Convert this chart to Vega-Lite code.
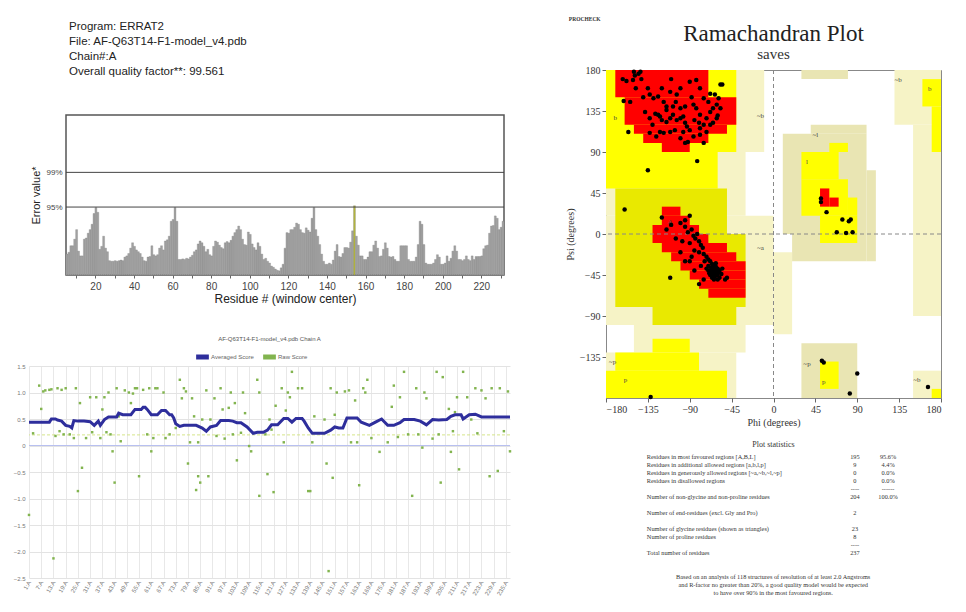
{
"$schema":"https://vega.github.io/schema/vega-lite/v6.json",
"padding":{"left":13,"top":17,"right":0,"bottom":0},
"background":"white",
"datasets":{
"errat":[{"r":5,"e":3.5},{"r":6,"e":3.8},{"r":7,"e":4.9},{"r":8,"e":4.9},{"r":9,"e":6.0},{"r":10,"e":7.6},{"r":11,"e":4.0},{"r":12,"e":3.2},{"r":13,"e":3.2},{"r":14,"e":6.0},{"r":15,"e":6.2},{"r":16,"e":7.0},{"r":17,"e":7.6},{"r":18,"e":8.5},{"r":19,"e":10.3},{"r":20,"e":11.3},{"r":21,"e":10.5},{"r":22,"e":4.3},{"r":23,"e":4.8},{"r":24,"e":6.5},{"r":25,"e":4.5},{"r":26,"e":3.9},{"r":27,"e":2.4},{"r":28,"e":2.3},{"r":29,"e":2.3},{"r":30,"e":2.4},{"r":31,"e":2.3},{"r":32,"e":2.4},{"r":33,"e":2.5},{"r":34,"e":2.4},{"r":35,"e":3.0},{"r":36,"e":3.2},{"r":37,"e":3.6},{"r":38,"e":4.5},{"r":39,"e":5.4},{"r":40,"e":4.8},{"r":41,"e":4.2},{"r":42,"e":3.9},{"r":43,"e":3.6},{"r":44,"e":3.0},{"r":45,"e":2.4},{"r":46,"e":2.3},{"r":47,"e":3.0},{"r":48,"e":3.1},{"r":49,"e":4.9},{"r":50,"e":3.4},{"r":51,"e":3.2},{"r":52,"e":3.4},{"r":53,"e":4.5},{"r":54,"e":4.9},{"r":55,"e":4.2},{"r":56,"e":5.7},{"r":57,"e":5.9},{"r":58,"e":6.5},{"r":59,"e":9.0},{"r":60,"e":9.3},{"r":61,"e":11.3},{"r":62,"e":9.0},{"r":63,"e":2.6},{"r":64,"e":2.6},{"r":65,"e":2.7},{"r":66,"e":2.6},{"r":67,"e":2.8},{"r":68,"e":2.7},{"r":69,"e":3.0},{"r":70,"e":3.3},{"r":71,"e":3.9},{"r":72,"e":4.2},{"r":73,"e":5.2},{"r":74,"e":5.7},{"r":75,"e":5.4},{"r":76,"e":4.8},{"r":77,"e":3.9},{"r":78,"e":4.3},{"r":79,"e":3.4},{"r":80,"e":3.2},{"r":81,"e":4.8},{"r":82,"e":5.7},{"r":83,"e":5.5},{"r":84,"e":5.0},{"r":85,"e":4.6},{"r":86,"e":4.4},{"r":87,"e":5.4},{"r":88,"e":5.6},{"r":89,"e":5.4},{"r":90,"e":5.8},{"r":91,"e":6.5},{"r":92,"e":7.1},{"r":93,"e":7.6},{"r":94,"e":8.2},{"r":95,"e":7.6},{"r":96,"e":6.0},{"r":97,"e":5.1},{"r":98,"e":5.0},{"r":99,"e":7.2},{"r":100,"e":6.8},{"r":101,"e":5.2},{"r":102,"e":4.6},{"r":103,"e":4.2},{"r":104,"e":5.4},{"r":105,"e":4.8},{"r":106,"e":3.5},{"r":107,"e":2.6},{"r":108,"e":2.8},{"r":109,"e":2.3},{"r":110,"e":2.0},{"r":111,"e":1.5},{"r":112,"e":1.3},{"r":113,"e":1.0},{"r":114,"e":0.8},{"r":115,"e":0.7},{"r":116,"e":1.2},{"r":117,"e":1.8},{"r":118,"e":4.5},{"r":119,"e":7.1},{"r":120,"e":7.0},{"r":121,"e":7.6},{"r":122,"e":7.6},{"r":123,"e":8.0},{"r":124,"e":8.7},{"r":125,"e":8.5},{"r":126,"e":7.6},{"r":127,"e":7.1},{"r":128,"e":7.0},{"r":129,"e":7.9},{"r":130,"e":7.5},{"r":131,"e":7.2},{"r":132,"e":9.5},{"r":133,"e":11.3},{"r":134,"e":7.6},{"r":135,"e":6.5},{"r":136,"e":5.1},{"r":137,"e":3.5},{"r":138,"e":2.3},{"r":139,"e":1.8},{"r":140,"e":1.8},{"r":141,"e":2.0},{"r":142,"e":1.8},{"r":143,"e":2.5},{"r":144,"e":4.0},{"r":145,"e":5.1},{"r":146,"e":3.1},{"r":147,"e":3.0},{"r":148,"e":3.6},{"r":149,"e":4.6},{"r":150,"e":4.6},{"r":151,"e":4.5},{"r":152,"e":5.5},{"r":153,"e":7.4},{"r":154,"e":11.6},{"r":155,"e":6.5},{"r":156,"e":5.0},{"r":157,"e":3.2},{"r":158,"e":3.2},{"r":159,"e":2.6},{"r":160,"e":2.6},{"r":161,"e":3.0},{"r":162,"e":3.9},{"r":163,"e":3.9},{"r":164,"e":5.0},{"r":165,"e":5.7},{"r":166,"e":4.5},{"r":167,"e":3.1},{"r":168,"e":3.2},{"r":169,"e":4.3},{"r":170,"e":5.4},{"r":171,"e":4.5},{"r":172,"e":3.1},{"r":173,"e":3.0},{"r":174,"e":3.1},{"r":175,"e":2.6},{"r":176,"e":2.3},{"r":177,"e":2.3},{"r":178,"e":4.9},{"r":179,"e":4.9},{"r":180,"e":4.9},{"r":181,"e":4.9},{"r":182,"e":2.6},{"r":183,"e":2.3},{"r":184,"e":2.3},{"r":185,"e":2.3},{"r":186,"e":3.0},{"r":187,"e":5.1},{"r":188,"e":9.0},{"r":189,"e":8.5},{"r":190,"e":5.1},{"r":191,"e":2.0},{"r":192,"e":1.8},{"r":193,"e":1.8},{"r":194,"e":1.8},{"r":195,"e":2.0},{"r":196,"e":2.6},{"r":197,"e":3.4},{"r":198,"e":3.0},{"r":199,"e":1.8},{"r":200,"e":1.8},{"r":201,"e":2.0},{"r":202,"e":3.2},{"r":203,"e":2.3},{"r":204,"e":2.8},{"r":205,"e":4.0},{"r":206,"e":4.9},{"r":207,"e":4.0},{"r":208,"e":2.6},{"r":209,"e":2.6},{"r":210,"e":2.4},{"r":211,"e":2.6},{"r":212,"e":3.2},{"r":213,"e":2.6},{"r":214,"e":2.4},{"r":215,"e":3.2},{"r":216,"e":2.6},{"r":217,"e":3.1},{"r":218,"e":3.1},{"r":219,"e":3.1},{"r":220,"e":3.2},{"r":221,"e":4.4},{"r":222,"e":4.9},{"r":223,"e":5.0},{"r":224,"e":7.0},{"r":225,"e":8.2},{"r":226,"e":8.3},{"r":227,"e":9.9},{"r":228,"e":9.5},{"r":229,"e":7.6},{"r":230,"e":8.0},{"r":231,"e":9.0}],
"avg":[{"r":1,"v":0.44},{"r":5,"v":0.44},{"r":8,"v":0.44},{"r":11,"v":0.44},{"r":12,"v":0.5},{"r":14,"v":0.5},{"r":15,"v":0.48},{"r":17,"v":0.46},{"r":19,"v":0.38},{"r":21,"v":0.36},{"r":22,"v":0.33},{"r":23,"v":0.47},{"r":25,"v":0.46},{"r":28,"v":0.46},{"r":31,"v":0.45},{"r":33,"v":0.38},{"r":35,"v":0.46},{"r":36,"v":0.38},{"r":38,"v":0.49},{"r":40,"v":0.54},{"r":44,"v":0.54},{"r":45,"v":0.61},{"r":47,"v":0.58},{"r":51,"v":0.58},{"r":53,"v":0.68},{"r":56,"v":0.68},{"r":57,"v":0.72},{"r":58,"v":0.72},{"r":59,"v":0.68},{"r":61,"v":0.58},{"r":64,"v":0.58},{"r":66,"v":0.66},{"r":68,"v":0.66},{"r":70,"v":0.58},{"r":71,"v":0.58},{"r":72,"v":0.52},{"r":73,"v":0.41},{"r":75,"v":0.36},{"r":77,"v":0.38},{"r":83,"v":0.38},{"r":86,"v":0.33},{"r":88,"v":0.27},{"r":90,"v":0.35},{"r":93,"v":0.38},{"r":95,"v":0.47},{"r":99,"v":0.47},{"r":101,"v":0.46},{"r":103,"v":0.43},{"r":105,"v":0.43},{"r":108,"v":0.35},{"r":111,"v":0.23},{"r":113,"v":0.25},{"r":116,"v":0.25},{"r":118,"v":0.29},{"r":120,"v":0.39},{"r":123,"v":0.39},{"r":126,"v":0.51},{"r":128,"v":0.51},{"r":130,"v":0.44},{"r":132,"v":0.51},{"r":135,"v":0.51},{"r":136,"v":0.46},{"r":138,"v":0.33},{"r":140,"v":0.23},{"r":146,"v":0.23},{"r":149,"v":0.29},{"r":151,"v":0.35},{"r":153,"v":0.33},{"r":155,"v":0.33},{"r":157,"v":0.52},{"r":162,"v":0.52},{"r":164,"v":0.44},{"r":168,"v":0.38},{"r":171,"v":0.44},{"r":174,"v":0.5},{"r":177,"v":0.38},{"r":180,"v":0.38},{"r":183,"v":0.43},{"r":185,"v":0.49},{"r":190,"v":0.49},{"r":193,"v":0.46},{"r":196,"v":0.39},{"r":199,"v":0.49},{"r":202,"v":0.48},{"r":206,"v":0.49},{"r":208,"v":0.55},{"r":210,"v":0.58},{"r":213,"v":0.58},{"r":214,"v":0.5},{"r":217,"v":0.58},{"r":220,"v":0.59},{"r":223,"v":0.54},{"r":237,"v":0.54}],
"raw":[{"r":6,"v":1.13},{"r":8,"v":1.02},{"r":9,"v":1.04},{"r":11,"v":1.05},{"r":12,"v":1.06},{"r":15,"v":1.08},{"r":17,"v":1.05},{"r":19,"v":1.08},{"r":24,"v":1.08},{"r":40,"v":1.0},{"r":44,"v":1.08},{"r":48,"v":1.04},{"r":50,"v":1.0},{"r":52,"v":0.98},{"r":53,"v":1.08},{"r":54,"v":1.08},{"r":57,"v":1.05},{"r":60,"v":1.08},{"r":63,"v":1.08},{"r":64,"v":1.08},{"r":67,"v":1.0},{"r":77,"v":1.08},{"r":78,"v":1.02},{"r":88,"v":1.04},{"r":95,"v":1.08},{"r":100,"v":1.0},{"r":106,"v":1.0},{"r":114,"v":1.0},{"r":125,"v":1.08},{"r":128,"v":1.0},{"r":133,"v":1.08},{"r":135,"v":1.08},{"r":149,"v":1.08},{"r":152,"v":1.0},{"r":156,"v":1.02},{"r":158,"v":1.04},{"r":165,"v":1.08},{"r":166,"v":1.0},{"r":180,"v":1.13},{"r":183,"v":0.91},{"r":191,"v":1.08},{"r":195,"v":1.0},{"r":220,"v":1.08},{"r":223,"v":1.04},{"r":228,"v":1.08},{"r":232,"v":1.08},{"r":236,"v":1.02},{"r":75,"v":1.24},{"r":113,"v":1.24},{"r":130,"v":1.39},{"r":167,"v":1.24},{"r":185,"v":1.39},{"r":201,"v":1.39},{"r":204,"v":1.29},{"r":214,"v":1.39},{"r":26,"v":0.8},{"r":31,"v":0.91},{"r":34,"v":0.91},{"r":38,"v":0.91},{"r":76,"v":0.89},{"r":81,"v":0.89},{"r":92,"v":0.89},{"r":99,"v":0.71},{"r":102,"v":0.8},{"r":129,"v":0.91},{"r":161,"v":0.85},{"r":196,"v":0.89},{"r":211,"v":0.91},{"r":216,"v":0.91},{"r":225,"v":0.89},{"r":7,"v":0.69},{"r":37,"v":0.68},{"r":45,"v":0.55},{"r":51,"v":0.8},{"r":82,"v":0.55},{"r":86,"v":0.49},{"r":90,"v":0.49},{"r":96,"v":0.68},{"r":107,"v":0.61},{"r":119,"v":0.49},{"r":122,"v":0.75},{"r":127,"v":0.66},{"r":141,"v":0.55},{"r":146,"v":0.49},{"r":151,"v":0.58},{"r":179,"v":0.73},{"r":207,"v":0.69},{"r":210,"v":0.63},{"r":218,"v":0.49},{"r":3,"v":0.23},{"r":14,"v":0.18},{"r":16,"v":0.27},{"r":18,"v":0.21},{"r":21,"v":0.21},{"r":23,"v":0.14},{"r":29,"v":0.14},{"r":32,"v":0.25},{"r":36,"v":0.14},{"r":39,"v":0.25},{"r":41,"v":0.21},{"r":46,"v":0.08},{"r":59,"v":0.21},{"r":62,"v":0.14},{"r":68,"v":0.14},{"r":70,"v":0.21},{"r":73,"v":0.33},{"r":93,"v":0.18},{"r":97,"v":0.13},{"r":101,"v":0.21},{"r":105,"v":0.24},{"r":109,"v":-0.01},{"r":117,"v":0.21},{"r":120,"v":0.3},{"r":126,"v":0.06},{"r":140,"v":0.06},{"r":159,"v":0.06},{"r":162,"v":0.06},{"r":169,"v":0.14},{"r":177,"v":0.06},{"r":182,"v":0.16},{"r":187,"v":0.21},{"r":192,"v":0.21},{"r":199,"v":0.13},{"r":202,"v":0.21},{"r":209,"v":0.27},{"r":221,"v":0.23},{"r":234,"v":0.27},{"r":42,"v":-0.11},{"r":61,"v":-0.11},{"r":80,"v":0.06},{"r":84,"v":0.06},{"r":110,"v":-0.11},{"r":173,"v":-0.12},{"r":194,"v":-0.04},{"r":208,"v":-0.12},{"r":237,"v":-0.11},{"r":27,"v":-0.42},{"r":25,"v":-0.86},{"r":43,"v":-0.7},{"r":55,"v":-0.58},{"r":79,"v":-0.34},{"r":83,"v":-0.84},{"r":84,"v":-0.58},{"r":85,"v":-0.7},{"r":89,"v":-0.58},{"r":103,"v":-0.28},{"r":114,"v":-0.95},{"r":118,"v":-0.54},{"r":121,"v":-0.88},{"r":138,"v":-0.86},{"r":139,"v":-0.86},{"r":147,"v":-0.34},{"r":150,"v":-0.61},{"r":163,"v":-0.75},{"r":189,"v":-0.95},{"r":203,"v":-0.7},{"r":212,"v":-0.45},{"r":227,"v":-0.58},{"r":231,"v":-0.48},{"r":1,"v":-1.31},{"r":13,"v":-2.13},{"r":148,"v":-2.37}],
"regions":[{"a":-180,"b":-10,"c":90,"d":180,"k":"g"},{"a":-180,"b":-30,"c":20,"d":90,"k":"g"},{"a":-180,"b":0,"c":-100,"d":20,"k":"g"},{"a":0,"b":20,"c":-110,"d":-20,"k":"g"},{"a":-150,"b":-30,"c":-130,"d":-100,"k":"g"},{"a":-180,"b":-40,"c":-180,"d":-130,"k":"g"},{"a":130,"b":180,"c":120,"d":180,"k":"g"},{"a":150,"b":180,"c":-90,"d":120,"k":"g"},{"a":150,"b":180,"c":-180,"d":-150,"k":"g"},{"a":10,"b":100,"c":0,"d":110,"k":"k"},{"a":40,"b":100,"c":110,"d":120,"k":"k"},{"a":100,"b":110,"c":-30,"d":70,"k":"k"},{"a":20,"b":100,"c":-30,"d":0,"k":"k"},{"a":30,"b":80,"c":170,"d":180,"k":"k"},{"a":30,"b":90,"c":-180,"d":-120,"k":"k"},{"a":-180,"b":-40,"c":90,"d":180,"k":"y"},{"a":-180,"b":-60,"c":50,"d":90,"k":"y"},{"a":-180,"b":-50,"c":-180,"d":-150,"k":"y"},{"a":-170,"b":-80,"c":-150,"d":-130,"k":"y"},{"a":-130,"b":-90,"c":-130,"d":-115,"k":"y"},{"a":30,"b":70,"c":60,"d":90,"k":"y"},{"a":60,"b":80,"c":90,"d":100,"k":"y"},{"a":30,"b":80,"c":20,"d":60,"k":"y"},{"a":80,"b":90,"c":20,"d":40,"k":"y"},{"a":50,"b":90,"c":-10,"d":20,"k":"y"},{"a":160,"b":180,"c":140,"d":170,"k":"y"},{"a":170,"b":180,"c":90,"d":140,"k":"y"},{"a":50,"b":70,"c":-170,"d":-140,"k":"y"},{"a":170,"b":180,"c":-180,"d":-170,"k":"y"},{"a":-170,"b":-50,"c":0,"d":50,"k":"d"},{"a":-170,"b":-30,"c":-80,"d":0,"k":"d"},{"a":-130,"b":-40,"c":-100,"d":-80,"k":"d"},{"a":-170,"b":-70,"c":150,"d":180,"k":"r"},{"a":-160,"b":-40,"c":120,"d":150,"k":"r"},{"a":-150,"b":-50,"c":110,"d":120,"k":"r"},{"a":-140,"b":-70,"c":100,"d":110,"k":"r"},{"a":-120,"b":-90,"c":90,"d":100,"k":"r"},{"a":-120,"b":-100,"c":20,"d":30,"k":"r"},{"a":-120,"b":-90,"c":10,"d":20,"k":"r"},{"a":-130,"b":-80,"c":0,"d":10,"k":"r"},{"a":-130,"b":-70,"c":-10,"d":0,"k":"r"},{"a":-120,"b":-50,"c":-20,"d":-10,"k":"r"},{"a":-110,"b":-40,"c":-30,"d":-20,"k":"r"},{"a":-100,"b":-30,"c":-40,"d":-30,"k":"r"},{"a":-90,"b":-30,"c":-50,"d":-40,"k":"r"},{"a":-80,"b":-30,"c":-60,"d":-50,"k":"r"},{"a":-70,"b":-30,"c":-70,"d":-60,"k":"r"},{"a":50,"b":60,"c":30,"d":50,"k":"r"},{"a":60,"b":70,"c":30,"d":40,"k":"r"}],
"rlabels":[{"phi":-170,"psi":127,"t":"b"},{"phi":-14,"psi":130,"t":"~b"},{"phi":45,"psi":109,"t":"~l"},{"phi":36,"psi":79,"t":"l"},{"phi":-111,"psi":13,"t":"A"},{"phi":-14,"psi":-15,"t":"~a"},{"phi":-173,"psi":-140,"t":"~p"},{"phi":-159,"psi":-160,"t":"p"},{"phi":36,"psi":-143,"t":"~p"},{"phi":54,"psi":-162,"t":"p"},{"phi":134,"psi":169,"t":"~b"},{"phi":168,"psi":159,"t":"b"},{"phi":154,"psi":-160,"t":"~b"}],
"rama":[{"phi":-162,"psi":170},{"phi":-149,"psi":174},{"phi":-143,"psi":178},{"phi":-142,"psi":170},{"phi":-151,"psi":169},{"phi":-158,"psi":168},{"phi":-148,"psi":160},{"phi":-133,"psi":153},{"phi":-129,"psi":149},{"phi":-124,"psi":151},{"phi":-118,"psi":145},{"phi":-111,"psi":156},{"phi":-104,"psi":153},{"phi":-90,"psi":167},{"phi":-83,"psi":169},{"phi":-79,"psi":160},{"phi":-75,"psi":149},{"phi":-68,"psi":154},{"phi":-63,"psi":153},{"phi":-59,"psi":149},{"phi":-57,"psi":164},{"phi":-161,"psi":146},{"phi":-154,"psi":145},{"phi":-138,"psi":134},{"phi":-133,"psi":127},{"phi":-127,"psi":132},{"phi":-124,"psi":131},{"phi":-122,"psi":129},{"phi":-120,"psi":125},{"phi":-115,"psi":123},{"phi":-111,"psi":127},{"phi":-108,"psi":131},{"phi":-104,"psi":125},{"phi":-100,"psi":127},{"phi":-97,"psi":129},{"phi":-95,"psi":122},{"phi":-93,"psi":118},{"phi":-90,"psi":114},{"phi":-97,"psi":112},{"phi":-92,"psi":101},{"phi":-86,"psi":107},{"phi":-79,"psi":116},{"phi":-75,"psi":120},{"phi":-72,"psi":127},{"phi":-68,"psi":134},{"phi":-65,"psi":138},{"phi":-61,"psi":142},{"phi":-57,"psi":138},{"phi":-79,"psi":131},{"phi":-83,"psi":138},{"phi":-86,"psi":142},{"phi":-100,"psi":138},{"phi":-108,"psi":140},{"phi":-115,"psi":136},{"phi":-122,"psi":112},{"phi":-133,"psi":111},{"phi":-126,"psi":107},{"phi":-118,"psi":111},{"phi":-111,"psi":112},{"phi":-106,"psi":114},{"phi":-79,"psi":109},{"phi":-72,"psi":112},{"phi":-65,"psi":122},{"phi":-61,"psi":127},{"phi":-150,"psi":178},{"phi":-145,"psi":176},{"phi":-135,"psi":160},{"phi":-110,"psi":170},{"phi":-100,"psi":160},{"phi":-95,"psi":140},{"phi":-88,"psi":150},{"phi":-85,"psi":125},{"phi":-80,"psi":122},{"phi":-70,"psi":145},{"phi":-68,"psi":120},{"phi":-60,"psi":130},{"phi":-75,"psi":100},{"phi":-95,"psi":100},{"phi":-100,"psi":105},{"phi":-130,"psi":120},{"phi":-140,"psi":150},{"phi":-120,"psi":160},{"phi":-115,"psi":140},{"phi":-105,"psi":145},{"phi":-156,"psi":112},{"phi":-82,"psi":80},{"phi":-135,"psi":70},{"phi":-160,"psi":27},{"phi":-111,"psi":-48},{"phi":-132,"psi":-179},{"phi":-55,"psi":164},{"phi":-120,"psi":18},{"phi":-110,"psi":10},{"phi":-100,"psi":12},{"phi":-95,"psi":8},{"phi":-92,"psi":2},{"phi":-88,"psi":5},{"phi":-86,"psi":-2},{"phi":-84,"psi":-5},{"phi":-82,"psi":0},{"phi":-80,"psi":-8},{"phi":-78,"psi":-12},{"phi":-76,"psi":-15},{"phi":-90,"psi":-10},{"phi":-85,"psi":-18},{"phi":-80,"psi":-20},{"phi":-75,"psi":-22},{"phi":-72,"psi":-25},{"phi":-70,"psi":-28},{"phi":-68,"psi":-30},{"phi":-66,"psi":-33},{"phi":-65,"psi":-35},{"phi":-64,"psi":-38},{"phi":-63,"psi":-40},{"phi":-62,"psi":-42},{"phi":-61,"psi":-44},{"phi":-60,"psi":-45},{"phi":-65,"psi":-42},{"phi":-67,"psi":-40},{"phi":-68,"psi":-45},{"phi":-70,"psi":-40},{"phi":-62,"psi":-36},{"phi":-58,"psi":-40},{"phi":-58,"psi":-48},{"phi":-60,"psi":-50},{"phi":-64,"psi":-50},{"phi":-66,"psi":-48},{"phi":-70,"psi":-35},{"phi":-72,"psi":-38},{"phi":-74,"psi":-30},{"phi":-60,"psi":-38},{"phi":-62,"psi":-32},{"phi":-56,"psi":-44},{"phi":-55,"psi":-38},{"phi":-64,"psi":-45},{"phi":-66,"psi":-42},{"phi":-63,"psi":-47},{"phi":-61,"psi":-39},{"phi":-59,"psi":-42},{"phi":-67,"psi":-37},{"phi":-69,"psi":-43},{"phi":-100,"psi":-20},{"phi":-95,"psi":-30},{"phi":-85,"psi":-40},{"phi":-80,"psi":-55},{"phi":-75,"psi":-50},{"phi":-52,"psi":-50},{"phi":-50,"psi":-48},{"phi":-90,"psi":-30},{"phi":-78,"psi":-35},{"phi":-105,"psi":-5},{"phi":-115,"psi":5},{"phi":-98,"psi":-8},{"phi":-88,"psi":-25},{"phi":-95,"psi":15},{"phi":-90,"psi":20},{"phi":57,"psi":24},{"phi":51,"psi":35},{"phi":51,"psi":39},{"phi":68,"psi":2},{"phi":78,"psi":1},{"phi":85,"psi":2},{"phi":74,"psi":16},{"phi":81,"psi":14},{"phi":83,"psi":16},{"phi":52,"psi":-139},{"phi":54,"psi":-141},{"phi":90,"psi":-153},{"phi":82,"psi":-175},{"phi":166,"psi":-168}],
"stats":[{"row":0,"col":"label","t":"Residues in most favoured regions      [A,B,L]"},{"row":0,"col":"count","t":"195"},{"row":0,"col":"pct","t":"95.6%"},{"row":1,"col":"label","t":"Residues in additional allowed regions  [a,b,l,p]"},{"row":1,"col":"count","t":"9"},{"row":1,"col":"pct","t":"4.4%"},{"row":2,"col":"label","t":"Residues in generously allowed regions  [~a,~b,~l,~p]"},{"row":2,"col":"count","t":"0"},{"row":2,"col":"pct","t":"0.0%"},{"row":3,"col":"label","t":"Residues in disallowed regions"},{"row":3,"col":"count","t":"0"},{"row":3,"col":"pct","t":"0.0%"},{"row":4,"col":"count","t":"----"},{"row":4,"col":"pct","t":"------"},{"row":5,"col":"label","t":"Number of non-glycine and non-proline residues"},{"row":5,"col":"count","t":"204"},{"row":5,"col":"pct","t":"100.0%"},{"row":7,"col":"label","t":"Number of end-residues (excl. Gly and Pro)"},{"row":7,"col":"count","t":"2"},{"row":9,"col":"label","t":"Number of glycine residues (shown as triangles)"},{"row":9,"col":"count","t":"23"},{"row":10,"col":"label","t":"Number of proline residues"},{"row":10,"col":"count","t":"8"},{"row":11,"col":"count","t":"----"},{"row":12,"col":"label","t":"Total number of residues"},{"row":12,"col":"count","t":"237"},{"row":15,"col":"note","t":"Based on an analysis of 118 structures of resolution of at least 2.0 Angstroms"},{"row":16,"col":"note","t":"and R-factor no greater than 20%, a good quality model would be expected"},{"row":17,"col":"note","t":"to have over 90% in the most favoured regions."}]
},
"concat":[
{"concat":[
{"width":438,"height":13,"data":{"values":[]},"mark":"point",
"title":{"text":["Program: ERRAT2","File: AF-Q63T14-F1-model_v4.pdb","Chain#:A","Overall quality factor**: 99.561"],"anchor":"start","frame":"group","dx":40,"font":"Liberation Sans","fontSize":11.5,"fontWeight":"normal","lineHeight":15.3,"offset":-8,"color":"#222"}},
{"concat":[
{"width":1,"height":160,"data":{"values":[]},"mark":"point"},
{"width":438,"height":160,
"view":{"stroke":"#555","strokeWidth":1.5},
"layer":[
{"data":{"name":"errat"},"mark":{"type":"bar","stroke":"#7a7a7a","strokeWidth":0.3},
"encoding":{
"x":{"field":"r","type":"ordinal","scale":{"paddingInner":0,"paddingOuter":0},"axis":{"values":[10,20,30,40,50,60,70,80,90,100,110,120,130,140,150,160,170,180,190,200,210,220,230],"labelExpr":"datum.value % 20 == 0 ? datum.label : ''","labelAngle":0,"title":"Residue # (window center)","titleFont":"Liberation Sans","titleFontWeight":"normal","titleFontSize":12,"titleColor":"#222","titlePadding":2,"labelFont":"Liberation Sans","labelFontSize":10,"labelColor":"#444","labelPadding":3,"tickSize":3,"tickColor":"#666","domain":false,"grid":false}},
"y":{"field":"e","type":"quantitative","scale":{"domain":[0,26.8],"nice":false},"axis":{"values":[11.38,17.19],"tickCount":50,"labelExpr":"datum.value > 15 ? '99%' : '95%'","title":"Error value*","titleFont":"Liberation Sans","titleFontWeight":"normal","titleFontSize":11,"titleColor":"#222","titlePadding":4,"labelFont":"Liberation Sans","labelFontSize":8,"labelColor":"#444","labelPadding":4,"ticks":false,"domain":false,"grid":false}},
"color":{"condition":{"test":"datum.e > 11.38","value":"#b3b53e"},"value":"#a2a2a2"}}},
{"data":{"values":[{"e":11.38},{"e":17.19}]},"mark":{"type":"rule","color":"#444","strokeWidth":1},"encoding":{"y":{"field":"e","type":"quantitative"}}}
]}
],"columns":2,"spacing":0},
{"width":481,"height":212,
"title":{"text":"AF-Q63T14-F1-model_v4.pdb Chain A","font":"Liberation Sans","fontSize":6,"fontWeight":"normal","color":"#555","offset":10},
"layer":[
{"data":{"values":[{"v":0}]},"mark":{"type":"rule","color":"#b8c0f0","strokeWidth":1},"encoding":{"y":{"field":"v","type":"quantitative"}}},
{"data":{"values":[{"v":0.2}]},"mark":{"type":"rule","color":"#d5e58a","strokeWidth":1,"strokeDash":[3,2]},"encoding":{"y":{"field":"v","type":"quantitative"}}},
{"data":{"name":"raw"},"mark":{"type":"square","size":6,"opacity":1},
"encoding":{
"x":{"field":"r","type":"quantitative","scale":{"domain":[1,237],"nice":false},"axis":{"values":[1,7,13,19,25,31,37,43,49,55,61,67,73,79,85,91,97,103,109,115,121,127,133,139,145,151,157,163,169,175,181,187,193,199,205,211,217,223,229,235],"tickCount":100,"labelExpr":"datum.value + ':A'","labelOverlap":false,"labelAngle":-60,"labelFont":"Liberation Sans","labelFontSize":6,"labelColor":"#777","labelPadding":3,"title":null,"grid":true,"gridColor":"#e8e8e8","domain":false,"ticks":false}},
"y":{"field":"v","type":"quantitative","scale":{"domain":[-2.5,1.5],"nice":false},"axis":{"values":[-2.5,-2,-1.5,-1,-0.5,0,0.5,1,1.5],"tickCount":50,"labelExpr":"datum.value == 0 ? '0' : format(datum.value, '.1f')","labelOverlap":false,"labelFont":"Liberation Sans","labelFontSize":6,"labelColor":"#777","labelPadding":4,"title":null,"grid":true,"gridColor":"#e3e3e3","domain":false,"ticks":false}},
"color":{"datum":"Raw Score","type":"nominal","scale":{"domain":["Averaged Score","Raw Score"],"range":["#2e2e9c","#82b44f"]},"legend":{"orient":"none","direction":"horizontal","legendX":169,"legendY":-14,"title":null,"symbolType":"M-1.6,-0.5H1.6V0.5H-1.6Z","symbolSize":49,"symbolStrokeWidth":1.5,"labelFont":"Liberation Sans","labelFontSize":6,"labelColor":"#666","columnPadding":6}}}},
{"data":{"name":"avg"},"mark":{"type":"line","strokeWidth":3},"encoding":{"x":{"field":"r","type":"quantitative"},"y":{"field":"v","type":"quantitative"},"color":{"datum":"Averaged Score","type":"nominal"}}}
]}
],"columns":1,"spacing":31,
"resolve":{"scale":{"color":"independent","x":"independent","y":"independent"},"legend":{"color":"independent"}}},
{"concat":[
{"width":335,"height":328,
"title":{"text":"Ramachandran Plot","subtitle":"saves","font":"Liberation Serif","fontSize":23,"fontWeight":"normal","color":"#222","subtitleFont":"Liberation Serif","subtitleFontSize":15,"subtitleColor":"#333","subtitlePadding":1,"offset":3},
"view":{"stroke":"#888","strokeWidth":1},
"layer":[
{"data":{"name":"regions"},"mark":{"type":"rect"},"encoding":{
"x":{"field":"a","type":"quantitative","scale":{"domain":[-180,180],"nice":false},"axis":{"values":[-180,-135,-90,-45,0,45,90,135,180],"tickCount":50,"title":"Phi (degrees)","labelFont":"Liberation Serif","labelFontSize":10,"labelColor":"#333","titleFont":"Liberation Serif","titleFontSize":10,"titleFontWeight":"normal","titleColor":"#333","titlePadding":3,"tickSize":4,"tickColor":"#666","domain":false,"grid":false,"labelPadding":2}},
"x2":{"field":"b"},
"y":{"field":"c","type":"quantitative","scale":{"domain":[-180,180],"nice":false},"axis":{"values":[-135,-90,-45,0,45,90,135,180],"tickCount":50,"title":"Psi (degrees)","labelFont":"Liberation Serif","labelFontSize":10,"labelColor":"#333","titleFont":"Liberation Serif","titleFontSize":10,"titleFontWeight":"normal","titleColor":"#333","titlePadding":4,"tickSize":4,"tickColor":"#666","domain":false,"grid":false,"labelPadding":2}},
"y2":{"field":"d"},
"color":{"field":"k","type":"nominal","scale":{"domain":["g","k","y","d","r"],"range":["#f6f3c6","#e9e5b3","#ffff00","#e9e900","#ff0000"]},"legend":null}}},
{"data":{"values":[{"a":0}]},"mark":{"type":"rule","color":"#888","strokeDash":[4,3]},"encoding":{"x":{"field":"a","type":"quantitative"}}},
{"data":{"values":[{"c":0}]},"mark":{"type":"rule","color":"#888","strokeDash":[4,3]},"encoding":{"y":{"field":"c","type":"quantitative"}}},
{"data":{"name":"rlabels"},"mark":{"type":"text","font":"Liberation Serif","fontSize":7,"color":"#444"},"encoding":{"x":{"field":"phi","type":"quantitative"},"y":{"field":"psi","type":"quantitative"},"text":{"field":"t"}}},
{"data":{"name":"rama"},"mark":{"type":"circle","size":20,"color":"#000","opacity":1},"encoding":{"x":{"field":"phi","type":"quantitative"},"y":{"field":"psi","type":"quantitative"}}}
]},
{"width":335,"height":144,
"title":{"text":"Plot statistics","font":"Liberation Serif","fontSize":8,"fontWeight":"normal","color":"#333","offset":4},
"data":{"name":"stats"},
"encoding":{"y":{"field":"row","type":"quantitative","scale":{"domain":[-0.5,17.5],"reverse":true,"nice":false,"zero":false},"axis":null},"text":{"field":"t"}},
"layer":[
{"transform":[{"filter":"datum.col == 'label'"}],"mark":{"type":"text","align":"left","font":"Liberation Serif","fontSize":6.3,"color":"#333"},"encoding":{"x":{"datum":12.2,"type":"quantitative","scale":{"domain":[0,100]},"axis":null}}},
{"transform":[{"filter":"datum.col == 'count'"}],"mark":{"type":"text","align":"center","font":"Liberation Serif","fontSize":6.3,"color":"#333"},"encoding":{"x":{"datum":74.3,"type":"quantitative"}}},
{"transform":[{"filter":"datum.col == 'pct'"}],"mark":{"type":"text","align":"center","font":"Liberation Serif","fontSize":6.3,"color":"#333"},"encoding":{"x":{"datum":84.2,"type":"quantitative"}}},
{"transform":[{"filter":"datum.col == 'note'"}],"mark":{"type":"text","align":"center","font":"Liberation Serif","fontSize":6.3,"color":"#333"},"encoding":{"x":{"datum":49.9,"type":"quantitative"}}}
]}
],"columns":1,"spacing":13,
"resolve":{"scale":{"color":"independent","x":"independent","y":"independent"},"legend":{"color":"independent"}},
"title":{"text":"PROCHECK","anchor":"start","dx":4,"font":"Liberation Serif","fontSize":5.5,"fontWeight":"bold","color":"#333","offset":0}}
],
"columns":2,"spacing":48,
"resolve":{"scale":{"color":"independent","x":"independent","y":"independent"},"legend":{"color":"independent"}},
"config":{"view":{"stroke":null},"font":"Liberation Sans"}
}
